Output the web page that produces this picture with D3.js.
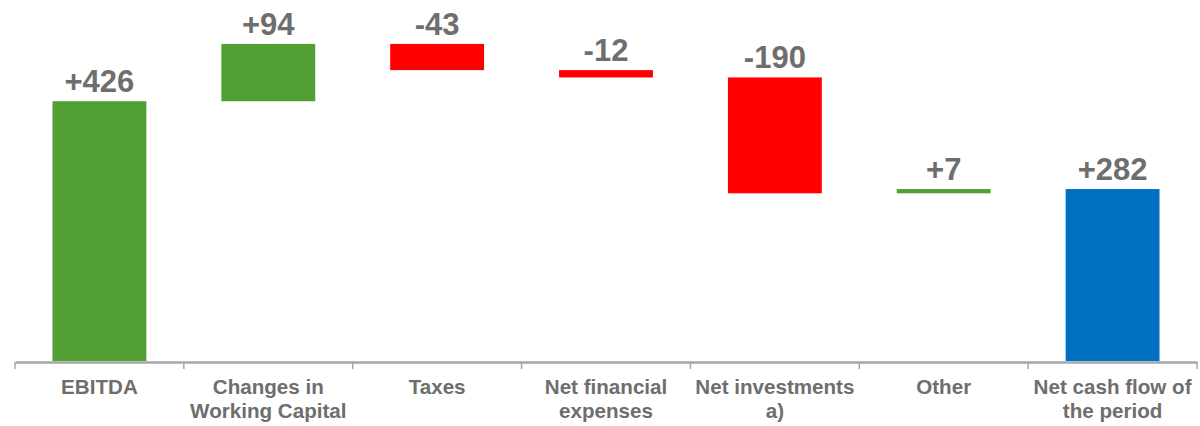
<!DOCTYPE html>
<html>
<head>
<meta charset="utf-8">
<script src="https://cdn.jsdelivr.net/npm/d3@7"></script>
<style>
  body { margin: 0; background: #fff; }
  svg { display: block; font-family: "Liberation Sans", Arial, sans-serif; }
</style>
</head>
<body>
<svg width="1200" height="426"></svg>
<script>
// categories, one line break where the label wraps
const categories = ["EBITDA", "Changes in\nWorking Capital", "Taxes", "Net financial\nexpenses",
                    "Net investments\na)", "Other", "Net cash flow of\nthe period"];
// step values; the last one is the total bar
const values = [426, 94, -43, -12, -190, 7, 282];
const kinds = ["total", "step", "step", "step", "step", "step", "total"];

const colors = { up: "#52a033", down: "#ff0000", total: "#0070c0" };
const textGray = "#6e6e6e";

const svg = d3.select("svg");

const x = d3.scaleBand()
    .domain(categories)
    .range([15, 1197])
    .paddingInner(0.444)
    .paddingOuter(0.222);

const y = d3.scaleLinear()
    .domain([0, 592])
    .range([361, 0]);

// build running totals
let running = 0;
const bars = values.map((v, i) => {
    let start, end;
    if (kinds[i] == "total" && i > 0) {
        start = 0; end = v; running = v;
    } else {
        start = running; end = running + v; running = end;
    }
    let fill = (i == values.length - 1) ? colors.total : (v >= 0 ? colors.up : colors.down);
    return { cat: categories[i], value: v, start: start, end: end, fill: fill };
});

svg.append("g").selectAll("rect")
    .data(bars)
    .enter().append("rect")
        .attr("x", d => x(d.cat))
        .attr("width", x.bandwidth())
        .attr("y", d => y(Math.max(d.start, d.end)))
        .attr("height", d => Math.abs(y(d.start) - y(d.end)))
        .style("fill", d => d.fill);

// value labels
svg.append("g").selectAll("text")
    .data(bars)
    .enter().append("text")
        .attr("x", d => x(d.cat) + x.bandwidth() / 2)
        .attr("y", d => y(Math.max(d.start, d.end)) - 9)
        .attr("text-anchor", "middle")
        .style("font-size", "31px")
        .style("font-weight", "bold")
        .style("fill", textGray)
        .text(d => (d.value > 0 ? "+" : "") + d.value);

// axis line
const axis = svg.append("g")
    .attr("transform", "translate(0,362)")
    .call(d3.axisBottom(x).tickSize(0).tickFormat(""));
axis.select(".domain").attr("stroke", "#a6a6a6").attr("stroke-width", 2.5);

// ticks at band boundaries
const boundaries = d3.range(categories.length + 1).map(i => x.range()[0] + i * x.step());
axis.selectAll(".bound")
    .data(boundaries)
    .enter().append("line")
        .attr("x1", d => d).attr("x2", d => d)
        .attr("y1", 0).attr("y2", 7)
        .attr("stroke", "#a6a6a6")
        .attr("stroke-width", 1.5);

// category labels
const labels = svg.append("g").selectAll("text")
    .data(categories)
    .enter().append("text")
        .attr("text-anchor", "middle")
        .attr("transform", d => "translate(" + (x(d) + x.bandwidth() / 2) + ",394)")
        .style("font-size", "20.6px")
        .style("font-weight", "bold")
        .style("fill", textGray);

labels.selectAll("tspan")
    .data(d => d.split("\n"))
    .enter().append("tspan")
        .attr("x", 0)
        .attr("y", (d, i) => i * 24)
        .text(d => d);
</script>
</body>
</html>
